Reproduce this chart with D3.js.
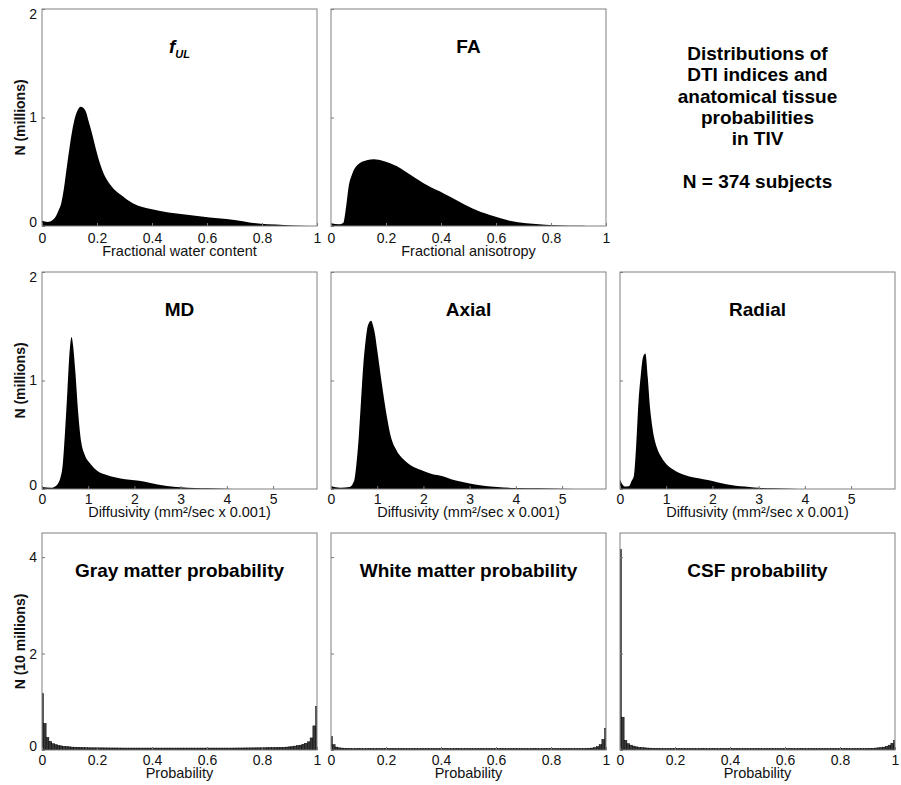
<!DOCTYPE html>
<html>
<head>
<meta charset="utf-8">
<script src="https://cdnjs.cloudflare.com/ajax/libs/d3/7.8.5/d3.min.js"></script>
<style>
  body { margin: 0; background: #fff; }
  svg { font-family: "Liberation Sans", Arial, sans-serif; }
</style>
</head>
<body>
<div id="chart"></div>
<script>
// ---- values ----
// DTI histograms (N in millions)
var fulX = [0, 0.02, 0.04, 0.05, 0.06, 0.07, 0.08, 0.09, 0.10, 0.11, 0.12, 0.13, 0.14, 0.15, 0.16, 0.17, 0.18, 0.19, 0.20, 0.22, 0.25, 0.29, 0.33, 0.40, 0.46, 0.52, 0.58, 0.64, 0.70, 0.76, 0.82, 0.88, 0.94, 1.0];
var fulY = [0.048, 0.038, 0.058, 0.087, 0.144, 0.21, 0.35, 0.54, 0.72, 0.88, 1.0, 1.07, 1.10, 1.09, 1.05, 0.96, 0.87, 0.77, 0.67, 0.51, 0.375, 0.28, 0.21, 0.154, 0.125, 0.106, 0.087, 0.071, 0.056, 0.031, 0.015, 0.01, 0.003, 0];

var faX = [0, 0.03, 0.045, 0.055, 0.064, 0.077, 0.095, 0.13, 0.156, 0.19, 0.24, 0.29, 0.35, 0.41, 0.47, 0.53, 0.59, 0.65, 0.71, 0.78, 0.84, 0.90, 0.93];
var faY = [0.025, 0.015, 0.03, 0.18, 0.36, 0.48, 0.56, 0.605, 0.615, 0.60, 0.55, 0.47, 0.375, 0.30, 0.22, 0.145, 0.092, 0.048, 0.025, 0.012, 0.005, 0.002, 0];

var mdX = [0, 0.2, 0.3, 0.4, 0.45, 0.5, 0.55, 0.6, 0.64, 0.67, 0.72, 0.78, 0.85, 0.92, 1.05, 1.2, 1.4, 1.6, 1.8, 2.0, 2.2, 2.4, 2.6, 2.8, 3.0, 3.3, 3.6, 4.0, 4.3];
var mdY = [0.019, 0.012, 0.028, 0.105, 0.23, 0.54, 0.91, 1.28, 1.40, 1.33, 1.09, 0.72, 0.43, 0.32, 0.23, 0.167, 0.13, 0.105, 0.09, 0.08, 0.068, 0.05, 0.034, 0.022, 0.015, 0.009, 0.006, 0.003, 0];

var axX = [0, 0.2, 0.4, 0.5, 0.55, 0.6, 0.65, 0.7, 0.75, 0.8, 0.87, 0.9, 0.95, 1.0, 1.1, 1.2, 1.3, 1.4, 1.6, 1.8, 2.0, 2.2, 2.4, 2.6, 2.8, 3.0, 3.3, 3.6, 4.0, 4.5, 5.0, 5.6];
var axY = [0.028, 0.012, 0.019, 0.074, 0.23, 0.475, 0.815, 1.15, 1.37, 1.51, 1.55, 1.52, 1.43, 1.28, 0.97, 0.69, 0.475, 0.37, 0.26, 0.20, 0.167, 0.136, 0.12, 0.09, 0.068, 0.05, 0.031, 0.019, 0.009, 0.006, 0.003, 0];

var radX = [0, 0.05, 0.1, 0.2, 0.25, 0.3, 0.35, 0.4, 0.45, 0.5, 0.55, 0.6, 0.65, 0.7, 0.8, 0.9, 1.0, 1.2, 1.4, 1.6, 1.8, 2.0, 2.2, 2.4, 2.6, 2.8, 3.0, 3.3, 3.7, 4.0];
var radY = [0.09, 0.043, 0.022, 0.028, 0.074, 0.12, 0.40, 0.80, 1.05, 1.22, 1.25, 1.03, 0.75, 0.57, 0.38, 0.29, 0.23, 0.167, 0.13, 0.105, 0.09, 0.074, 0.052, 0.037, 0.025, 0.019, 0.012, 0.006, 0.003, 0];

// tissue probability histograms, bins 0, 0.01 ... 1 (N in 10 millions)
var probBins = d3.range(101).map(function(i){ return i / 100; });
var grayCounts = [
  1.17, 0.55, 0.26, 0.18, 0.13, 0.11, 0.095, 0.085, 0.075, 0.07,
  0.065, 0.06, 0.058, 0.055, 0.052, 0.05, 0.048, 0.046, 0.045, 0.045,
  0.045, 0.044, 0.044, 0.043, 0.043, 0.042, 0.042, 0.042, 0.041, 0.041,
  0.04, 0.04, 0.04, 0.04, 0.04, 0.04, 0.04, 0.04, 0.04, 0.04,
  0.04, 0.04, 0.04, 0.04, 0.04, 0.04, 0.04, 0.04, 0.04, 0.04,
  0.04, 0.04, 0.04, 0.04, 0.04, 0.04, 0.04, 0.04, 0.04, 0.04,
  0.04, 0.04, 0.04, 0.04, 0.04, 0.04, 0.04, 0.04, 0.04, 0.04,
  0.041, 0.041, 0.042, 0.042, 0.043, 0.043, 0.044, 0.044, 0.045, 0.045,
  0.046, 0.046, 0.047, 0.048, 0.049, 0.05, 0.052, 0.054, 0.056, 0.06,
  0.065, 0.07, 0.08, 0.09, 0.1, 0.12, 0.14, 0.17, 0.25, 0.5,
  0.9];
var whiteCounts = [
  0.28, 0.11, 0.06, 0.045, 0.04, 0.035, 0.032, 0.03, 0.03, 0.03,
  0.03, 0.03, 0.03, 0.03, 0.03, 0.03, 0.03, 0.03, 0.03, 0.03,
  0.03, 0.03, 0.03, 0.03, 0.03, 0.03, 0.03, 0.03, 0.03, 0.03,
  0.03, 0.03, 0.03, 0.03, 0.03, 0.03, 0.03, 0.03, 0.03, 0.03,
  0.03, 0.03, 0.03, 0.03, 0.03, 0.03, 0.03, 0.03, 0.03, 0.03,
  0.03, 0.03, 0.03, 0.03, 0.03, 0.03, 0.03, 0.03, 0.03, 0.03,
  0.03, 0.03, 0.03, 0.03, 0.03, 0.03, 0.03, 0.03, 0.03, 0.03,
  0.03, 0.03, 0.03, 0.03, 0.03, 0.03, 0.03, 0.03, 0.03, 0.03,
  0.03, 0.03, 0.03, 0.03, 0.03, 0.03, 0.03, 0.03, 0.03, 0.03,
  0.03, 0.03, 0.032, 0.034, 0.037, 0.04, 0.05, 0.07, 0.11, 0.22,
  0.45];
var csfCounts = [
  4.16, 0.68, 0.2, 0.13, 0.1, 0.08, 0.065, 0.055, 0.05, 0.045,
  0.04, 0.038, 0.036, 0.034, 0.032, 0.03, 0.03, 0.03, 0.03, 0.03,
  0.03, 0.03, 0.03, 0.03, 0.03, 0.03, 0.03, 0.03, 0.03, 0.03,
  0.03, 0.03, 0.03, 0.03, 0.03, 0.03, 0.03, 0.03, 0.03, 0.03,
  0.03, 0.03, 0.03, 0.03, 0.03, 0.03, 0.03, 0.03, 0.03, 0.03,
  0.03, 0.03, 0.03, 0.03, 0.03, 0.03, 0.03, 0.03, 0.03, 0.03,
  0.03, 0.03, 0.03, 0.03, 0.03, 0.03, 0.03, 0.03, 0.03, 0.03,
  0.03, 0.03, 0.03, 0.03, 0.03, 0.03, 0.03, 0.03, 0.03, 0.03,
  0.03, 0.03, 0.03, 0.03, 0.03, 0.03, 0.03, 0.03, 0.03, 0.03,
  0.032, 0.034, 0.036, 0.04, 0.045, 0.05, 0.06, 0.075, 0.1, 0.14,
  0.2];

// ticks and labels
var probTicks = [0, 0.2, 0.4, 0.6, 0.8, 1];
var diffTicks = [0, 1, 2, 3, 4, 5];
var millionTicks = [0, 1, 2];
var tenMillionTicks = [0, 2, 4];
var infoLines = ["Distributions of", "DTI indices and", "anatomical tissue", "probabilities", "in TIV", "", "N = 374 subjects"];

var panels = [
  {col: 0, row: 0, title: "f", sub: "UL", kind: "area", xs: fulX, ys: fulY, xDom: [0, 1], xTicks: probTicks, yDom: [0, 2], yTicks: millionTicks, xLabel: "Fractional water content", yLabel: "N (millions)"},
  {col: 1, row: 0, title: "FA", kind: "area", xs: faX, ys: faY, xDom: [0, 1], xTicks: probTicks, yDom: [0, 2], yTicks: millionTicks, xLabel: "Fractional anisotropy"},
  {col: 0, row: 1, title: "MD", kind: "area", xs: mdX, ys: mdY, xDom: [0, 5.95], xTicks: diffTicks, yDom: [0, 2], yTicks: millionTicks, xLabel: "Diffusivity (mm²/sec x 0.001)", yLabel: "N (millions)"},
  {col: 1, row: 1, title: "Axial", kind: "area", xs: axX, ys: axY, xDom: [0, 5.95], xTicks: diffTicks, yDom: [0, 2], yTicks: millionTicks, xLabel: "Diffusivity (mm²/sec x 0.001)"},
  {col: 2, row: 1, title: "Radial", kind: "area", xs: radX, ys: radY, xDom: [0, 5.95], xTicks: diffTicks, yDom: [0, 2], yTicks: millionTicks, xLabel: "Diffusivity (mm²/sec x 0.001)"},
  {col: 0, row: 2, title: "Gray matter probability", kind: "bars", xs: probBins, ys: grayCounts, xDom: [0, 1], xTicks: probTicks, yDom: [0, 4.5], yTicks: tenMillionTicks, xLabel: "Probability", yLabel: "N (10 millions)"},
  {col: 1, row: 2, title: "White matter probability", kind: "bars", xs: probBins, ys: whiteCounts, xDom: [0, 1], xTicks: probTicks, yDom: [0, 4.5], yTicks: tenMillionTicks, xLabel: "Probability"},
  {col: 2, row: 2, title: "CSF probability", kind: "bars", xs: probBins, ys: csfCounts, xDom: [0, 1], xTicks: probTicks, yDom: [0, 4.5], yTicks: tenMillionTicks, xLabel: "Probability"}
];

// ---- layout ----
var colX = [42, 331, 620], panelW = 275;
var rowY = [9, 272, 533], panelH = 217;
var tickPad = [7, 5, 5];     // gap under the axis for tick labels, per row
var labelGap = [30, 28, 28]; // baseline of the x title under the axis
var binW = 0.01;

var svg = d3.select("#chart").append("svg")
  .attr("width", 901)
  .attr("height", 785);

panels.forEach(function(p, i){ drawPanel(p, i); });

// text block in the empty top-right cell
var info = svg.append("text")
  .attr("text-anchor", "middle")
  .style("font-size", "19px")
  .style("font-weight", "700")
  .attr("fill", "#000");
infoLines.forEach(function(line, i){
  info.append("tspan")
    .attr("x", colX[2] + panelW / 2)
    .attr("y", 60 + i * 21.3)
    .text(line);
});

function drawPanel(p, i){
  var left = colX[p.col], top = rowY[p.row];
  var g = svg.append("g").attr("transform", "translate(" + left + "," + top + ")");

  var x = d3.scaleLinear().domain(p.xDom).range([0, panelW]);
  var y = d3.scaleLinear().domain(p.yDom).range([panelH, 0]);

  g.append("clipPath").attr("id", "clip" + i)
    .append("rect").attr("width", panelW).attr("height", panelH);

  var plot = g.append("g").attr("clip-path", "url(#clip" + i + ")");
  var pts = d3.zip(p.xs, p.ys);

  if (p.kind == "area"){
    var area = d3.area()
      .x(function(d){ return x(d[0]); })
      .y0(y(0))
      .y1(function(d){ return y(d[1]); })
      .curve(d3.curveMonotoneX);
    plot.append("path").datum(pts)
      .attr("d", area)
      .attr("fill", "#000");
  } else {
    plot.selectAll("rect.bar").data(pts).enter()
      .append("rect").attr("class", "bar")
      .attr("x", function(d){ return x(d[0] - binW / 2); })
      .attr("width", function(d){ return x(d[0] + binW / 2) - x(d[0] - binW / 2); })
      .attr("y", function(d){ return y(d[1]); })
      .attr("height", function(d){ return y(0) - y(d[1]); })
      .attr("fill", "#3a3a3a")
      .attr("stroke", "#000")
      .attr("stroke-width", 0.5);
  }

  // axes, ticks pointing inward like matlab
  var xAxis = g.append("g").attr("transform", "translate(0," + panelH + ")")
    .call(d3.axisBottom(x).tickValues(p.xTicks).tickSize(-3).tickPadding(tickPad[p.row])
      .tickFormat(function(d){ return d; }));
  var yAxis = g.append("g")
    .call(d3.axisLeft(y).tickValues(p.yTicks).tickSize(-3).tickPadding(5)
      .tickFormat(function(d){ return d; }));
  if (p.col != 0) yAxis.selectAll(".tick text").remove();
  // labels at the very ends of the y range sit a little inside, as in the original
  yAxis.selectAll(".tick text").attr("dy", function(d){
    if (d == p.yDom[0]) return "-0.0em";
    if (d == p.yDom[1]) return "0.65em";
    return "0.32em";
  });

  [xAxis, yAxis].forEach(function(a){
    a.select(".domain").remove();
    a.selectAll(".tick line").attr("stroke", "#777");
    a.selectAll(".tick text")
      .attr("fill", "#111")
      .style("font-size", "14px")
      .style("font-family", '"Liberation Sans", Arial, sans-serif');
  });

  g.append("rect")
    .attr("width", panelW).attr("height", panelH)
    .attr("fill", "none")
    .attr("stroke", "#808080")
    .attr("stroke-width", 1);

  // panel title
  var t = g.append("text")
    .attr("x", panelW / 2).attr("y", 44)
    .attr("text-anchor", "middle")
    .style("font-size", "19px")
    .style("font-weight", "700")
    .attr("fill", "#000");
  if (p.sub){
    t.append("tspan").style("font-style", "italic").text(p.title);
    t.append("tspan").attr("dy", 5).style("font-style", "italic").style("font-size", "11px").text(p.sub);
  } else {
    t.text(p.title);
  }

  // x label
  g.append("text")
    .attr("x", panelW / 2).attr("y", panelH + labelGap[p.row])
    .attr("text-anchor", "middle")
    .style("font-size", "14.5px")
    .attr("fill", "#111")
    .text(p.xLabel);

  // y label
  if (p.yLabel){
    g.append("text")
      .attr("transform", "translate(" + (25 - left) + "," + (panelH / 2) + ") rotate(-90)")
      .attr("text-anchor", "middle")
      .style("font-size", "14px")
      .style("font-weight", "700")
      .attr("fill", "#111")
      .text(p.yLabel);
  }
}
</script>
</body>
</html>
